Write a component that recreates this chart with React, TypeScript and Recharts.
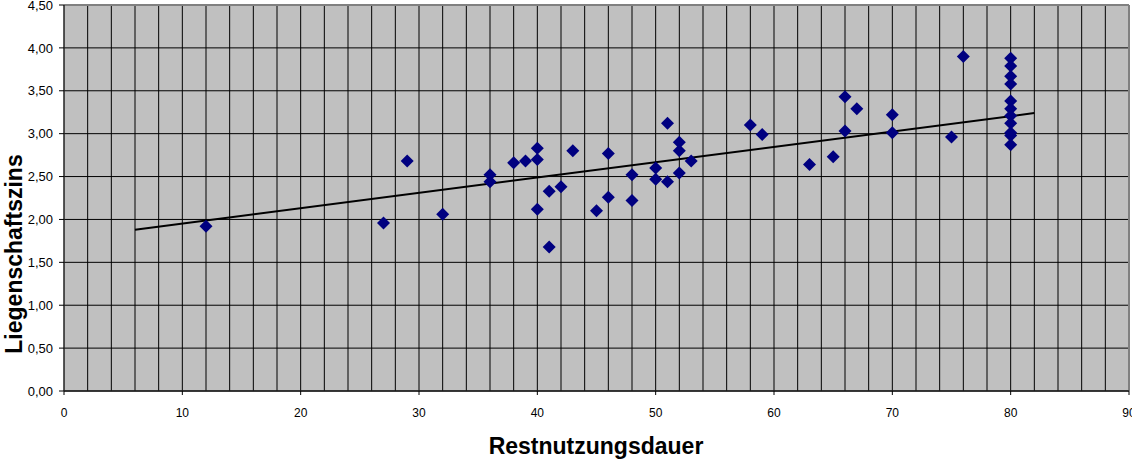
import React from 'react';
import { ScatterChart, Scatter, XAxis, YAxis, CartesianGrid, ReferenceLine, Label } from 'recharts';

// Restnutzungsdauer (x) and Liegenschaftszins (y) observations
const restnutzungsdauer = [
  12, 27, 29, 32, 36, 36, 38, 39, 40, 40, 40, 41, 41, 42, 43, 45, 46, 46, 48, 48,
  50, 50, 51, 51, 52, 52, 52, 53, 58, 59, 63, 65, 66, 66, 67, 70, 70, 75, 76,
  80, 80, 80, 80, 80, 80, 80, 80, 80, 80, 80,
];
const liegenschaftszins = [
  1.92, 1.96, 2.68, 2.06, 2.52, 2.44, 2.66, 2.68, 2.83, 2.70, 2.12, 2.33, 1.68, 2.38, 2.80, 2.10, 2.77, 2.26, 2.52, 2.22,
  2.60, 2.47, 3.12, 2.44, 2.90, 2.80, 2.54, 2.68, 3.10, 2.99, 2.64, 2.73, 3.43, 3.03, 3.29, 3.22, 3.01, 2.96, 3.90,
  3.88, 3.79, 3.67, 3.58, 3.38, 3.29, 3.21, 3.12, 3.01, 2.98, 2.87,
];

// linear trend line end points
const trendX = [6, 82];
const trendY = [1.88, 3.24];

const xTicks = [0, 10, 20, 30, 40, 50, 60, 70, 80, 90];
const xMinorGrid = [2, 4, 6, 8, 10, 12, 14, 16, 18, 20, 22, 24, 26, 28, 30, 32, 34, 36, 38, 40, 42, 44,
  46, 48, 50, 52, 54, 56, 58, 60, 62, 64, 66, 68, 70, 72, 74, 76, 78, 80, 82, 84, 86, 88];
const yTicks = [0, 0.5, 1, 1.5, 2, 2.5, 3, 3.5, 4, 4.5];

const points = restnutzungsdauer.map((x, i) => ({ x, y: liegenschaftszins[i] }));
const trend = trendX.map((x, i) => ({ x, y: trendY[i] }));

const FONT = '"Liberation Sans", Arial, sans-serif';

const Diamond = (props: any) => {
  const { cx, cy } = props;
  if (cx == null || cy == null) return <g />;
  const r = 6.5;
  return (
    <polygon
      points={`${cx},${cy - r} ${cx + r},${cy} ${cx},${cy + r} ${cx - r},${cy}`}
      fill="#000080"
    />
  );
};

const fmt = (v: number) => v.toFixed(2).replace('.', ',');

export default function App() {
  return (
    <div style={{ position: 'absolute', left: 0, top: 0, width: 1132, height: 459, background: '#fff' }}>
      <ScatterChart width={1132} height={459} margin={{ top: 5, right: 3, bottom: 0, left: 0 }}>
        <CartesianGrid
          horizontal={true}
          vertical={false}
          stroke="#000"
          strokeWidth={1}
          fill="#C0C0C0"
          fillOpacity={1}
        />
        {xMinorGrid.map((v) => (
          <ReferenceLine key={v} x={v} stroke="#000" strokeWidth={1} />
        ))}
        <ReferenceLine y={4.5} stroke="#808080" strokeWidth={2} />
        <ReferenceLine x={90} stroke="#808080" strokeWidth={2} />
        <XAxis
          type="number"
          dataKey="x"
          domain={[0, 90]}
          ticks={xTicks}
          interval={0}
          height={68}
          axisLine={{ stroke: '#222', strokeWidth: 1.5 }}
          tickLine={{ stroke: '#000' }}
          tickSize={4}
          tickMargin={13}
          tick={{ fill: '#000', fontSize: 12, fontFamily: FONT }}
        >
          <Label
            content={() => (
              <text
                x={596}
                y={454}
                textAnchor="middle"
                fontFamily={FONT}
                fontWeight="bold"
                fontSize={23}
                fill="#000"
              >
                Restnutzungsdauer
              </text>
            )}
          />
        </XAxis>
        <YAxis
          type="number"
          dataKey="y"
          domain={[0, 4.5]}
          ticks={yTicks}
          interval={0}
          width={64}
          axisLine={{ stroke: '#222', strokeWidth: 1.5 }}
          tickLine={{ stroke: '#000' }}
          tickSize={5}
          tickMargin={6}
          tickFormatter={fmt}
          tick={{ fill: '#000', fontSize: 13, fontFamily: FONT }}
        >
          <Label
            content={() => (
              <text
                x={22}
                y={254}
                textAnchor="middle"
                transform="rotate(-90 22 254)"
                fontFamily={FONT}
                fontWeight="bold"
                fontSize={23}
                fill="#000"
              >
                Liegenschaftszins
              </text>
            )}
          />
        </YAxis>
        <Scatter
          data={trend}
          line={{ stroke: '#000', strokeWidth: 2 }}
          shape={() => <g />}
          isAnimationActive={false}
        />
        <Scatter data={points} shape={Diamond} isAnimationActive={false} />
      </ScatterChart>
    </div>
  );
}
